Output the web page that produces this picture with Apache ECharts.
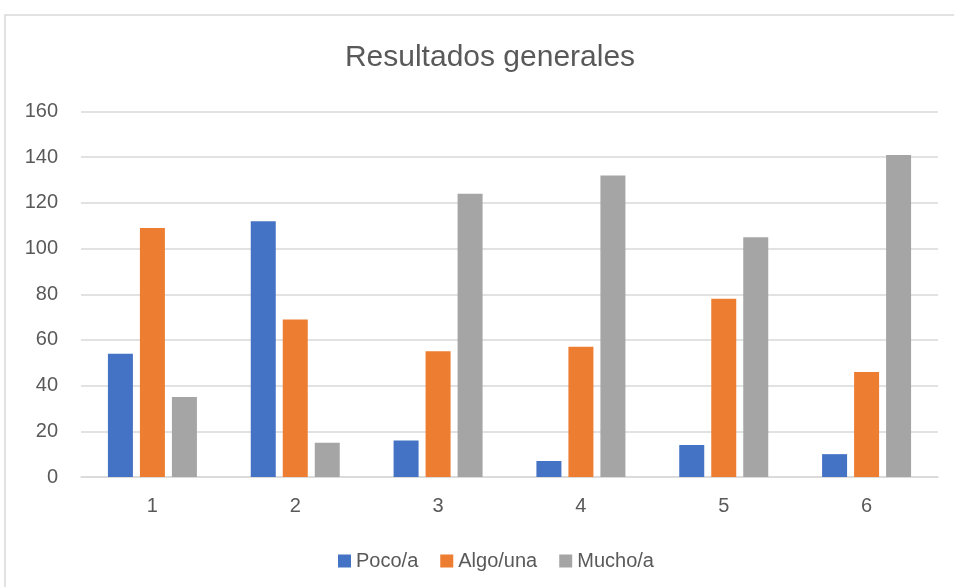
<!DOCTYPE html>
<html>
<head>
<meta charset="utf-8">
<title>Resultados generales</title>
<script src="https://cdn.jsdelivr.net/npm/echarts@6/dist/echarts.min.js"></script>
<style>
  html, body { margin: 0; padding: 0; background: #fff; }
  #chart { width: 954px; height: 587px; }
</style>
</head>
<body>
<div id="chart"></div>
<script>
// datos
const categories = ['1', '2', '3', '4', '5', '6'];
const poco = [54, 112, 16, 7, 14, 10];
const algo = [109, 69, 55, 57, 78, 46];
const mucho = [35, 15, 124, 132, 105, 141];
const seriesNames = ['Poco/a', 'Algo/una', 'Mucho/a'];

const font = "'Liberation Sans', Arial, sans-serif";
const textColor = '#595959';
const gridColor = '#d9d9d9';
const colors = ['#4472c4', '#ed7d31', '#a5a5a5'];

const chart = echarts.init(document.getElementById('chart'));

const makeBar = (name, data, color) => ({
  name: name,
  type: 'bar',
  data: data,
  barWidth: 25,
  barGap: '28%',
  itemStyle: { color: color },
});

const option = {
  backgroundColor: '#fff',
  animation: false,
  color: colors,
  // borde del área del gráfico
  graphic: [{
    type: 'rect',
    shape: { x: 5, y: 15, width: 1000, height: 1000 },
    style: { fill: 'none', stroke: gridColor, lineWidth: 1.5 },
    silent: true,
  }],
  title: {
    text: 'Resultados generales',
    left: 485,
    top: 38,
    textAlign: 'center',
    textStyle: { fontFamily: font, fontSize: 30, fontWeight: 'normal', color: textColor },
  },
  legend: {
    data: seriesNames,
    left: 338,
    top: 551,
    padding: 0,
    icon: 'rect',
    itemWidth: 13,
    itemHeight: 13,
    itemGap: 22,
    textStyle: { fontFamily: font, fontSize: 20, color: textColor },
  },
  grid: { left: 81, right: 16, top: 111.5, bottom: 110, containLabel: false },
  xAxis: {
    type: 'category',
    data: categories,
    axisLine: { show: true, lineStyle: { color: gridColor, width: 1.5 } },
    axisTick: { show: false },
    axisLabel: { fontFamily: font, fontSize: 20, color: textColor, margin: 19 },
  },
  yAxis: {
    type: 'value',
    min: 0,
    max: 160,
    interval: 20,
    axisLine: { show: false },
    axisTick: { show: false },
    axisLabel: { fontFamily: font, fontSize: 20, color: textColor, margin: 23 },
    splitLine: { show: true, lineStyle: { color: gridColor, width: 1.5 } },
  },
  series: [
    makeBar(seriesNames[0], poco, colors[0]),
    makeBar(seriesNames[1], algo, colors[1]),
    makeBar(seriesNames[2], mucho, colors[2]),
  ],
};

chart.setOption(option);
</script>
</body>
</html>
